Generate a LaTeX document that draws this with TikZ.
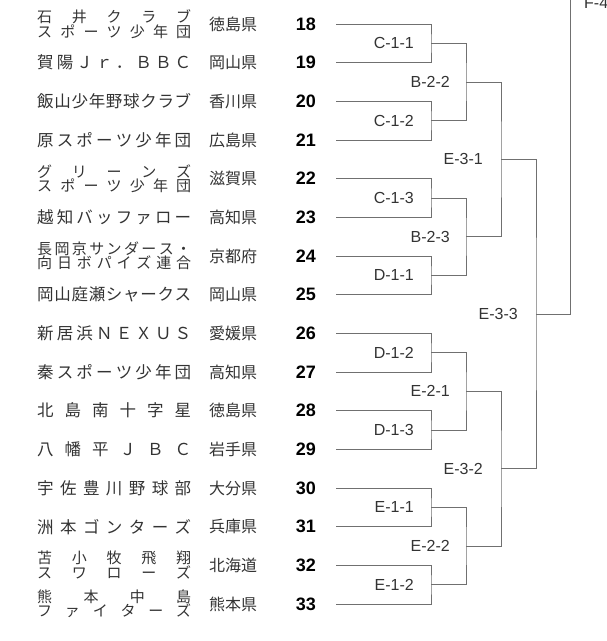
\documentclass[tikz,border=0pt]{standalone}
\usepackage{fontspec}
\usetikzlibrary{calc}
\setmainfont{Liberation Sans}
\newfontfamily\jp{Noto Sans CJK JP}
\makeatletter
\def\sprA#1{\ifx\relax#1\else #1\expandafter\sprB\fi}
\def\sprB#1{\ifx\relax#1\else\hfill #1\expandafter\sprB\fi}
\newcommand\one[1]{{\fontsize{16.5}{16.5}\jp\hbox to 154pt{\sprA#1\relax}}}
\newcommand\two[2]{\vbox{\fontsize{15}{14}\jp\hbox to 154pt{\sprA#1\relax}\hbox to 154pt{\sprA#2\relax}}}
\makeatother
\definecolor{txt}{HTML}{333333}
\definecolor{ln}{HTML}{707070}
\begin{document}
\begin{tikzpicture}[x=1pt,y=-1pt,
  nm/.style={anchor=west,inner sep=0pt,text=txt},
  pf/.style={anchor=west,inner sep=0pt,text=txt,font=\fontsize{16}{16}\jp},
  num/.style={anchor=east,inner sep=0pt,font=\fontsize{18}{18}\bfseries},
  lbl/.style={anchor=east,inner sep=0pt,text=txt,font=\fontsize{16}{16}\selectfont},
  br/.style={draw=ln,line width=0.9pt}]
\useasboundingbox (0,0) rectangle (607,641);
\foreach \i/\n/\p in {0/{\two{石井クラブ}{スポーツ少年団}}/徳島県,
  1/{\one{賀陽Ｊｒ．ＢＢＣ}}/岡山県,
  2/{\one{飯山少年野球クラブ}}/香川県,
  3/{\one{原スポーツ少年団}}/広島県,
  4/{\two{グリーンズ}{スポーツ少年団}}/滋賀県,
  5/{\one{越知バッファロー}}/高知県,
  6/{\two{長岡京サンダース・}{向日ボパイズ連合}}/京都府,
  7/{\one{岡山庭瀬シャークス}}/岡山県,
  8/{\one{新居浜ＮＥＸＵＳ}}/愛媛県,
  9/{\one{秦スポーツ少年団}}/高知県,
  10/{\one{北島南十字星}}/徳島県,
  11/{\one{八幡平ＪＢＣ}}/岩手県,
  12/{\one{宇佐豊川野球部}}/大分県,
  13/{\one{洲本ゴンターズ}}/兵庫県,
  14/{\two{苫小牧飛翔}{スワローズ}}/北海道,
  15/{\two{熊本中島}{ファイターズ}}/熊本県}{
  \pgfmathsetmacro\yy{24+\i*38.67}
  \pgfmathtruncatemacro\nn{18+\i}
  \node[nm] (name\i) at (37,\yy) {\n};
  \node[pf] (pref\i) at (209,\yy) {\p};
  \node[num] (num\i) at (316,\yy) {\nn};
  \coordinate (s\i) at (336,\yy);
}
% level 1
\foreach \k/\t in {0/C-1-1,1/C-1-2,2/C-1-3,3/D-1-1,4/D-1-2,5/D-1-3,6/E-1-1,7/E-1-2}{
  \pgfmathtruncatemacro\a{2*\k}\pgfmathtruncatemacro\b{2*\k+1}
  \coordinate (a\k) at ($(s\a)!0.5!(s\b)+(95,0)$);
  \draw[br] (s\a) -| (a\k) |- (s\b);
  \node[lbl] at ($(a\k)+(-17,0)$) {\t};
}
\foreach \k/\t in {0/B-2-2,1/B-2-3,2/E-2-1,3/E-2-2}{
  \pgfmathtruncatemacro\a{2*\k}\pgfmathtruncatemacro\b{2*\k+1}
  \coordinate (b\k) at ($(a\a)!0.5!(a\b)+(35,0)$);
  \draw[br] (a\a) -| (b\k) |- (a\b);
  \node[lbl] at ($(b\k)+(-16,0)$) {\t};
}
\foreach \k/\t in {0/E-3-1,1/E-3-2}{
  \pgfmathtruncatemacro\a{2*\k}\pgfmathtruncatemacro\b{2*\k+1}
  \coordinate (c\k) at ($(b\a)!0.5!(b\b)+(35,0)$);
  \draw[br] (b\a) -| (c\k) |- (b\b);
  \node[lbl] at ($(c\k)+(-18,0)$) {\t};
}
\coordinate (d0) at ($(c0)!0.5!(c1)+(35,0)$);
\draw[br] (c0) -| (d0) |- (c1);
\node[lbl] at ($(d0)+(-18,0)$) {E-3-3};
\coordinate (top) at ($(d0)+(34,0)$);
\coordinate (topend) at (570,0);
\draw[br] (d0) -- (top) -- (topend);
\node[lbl,anchor=west] at (584,3) {F-4};
\end{tikzpicture}
\end{document}
